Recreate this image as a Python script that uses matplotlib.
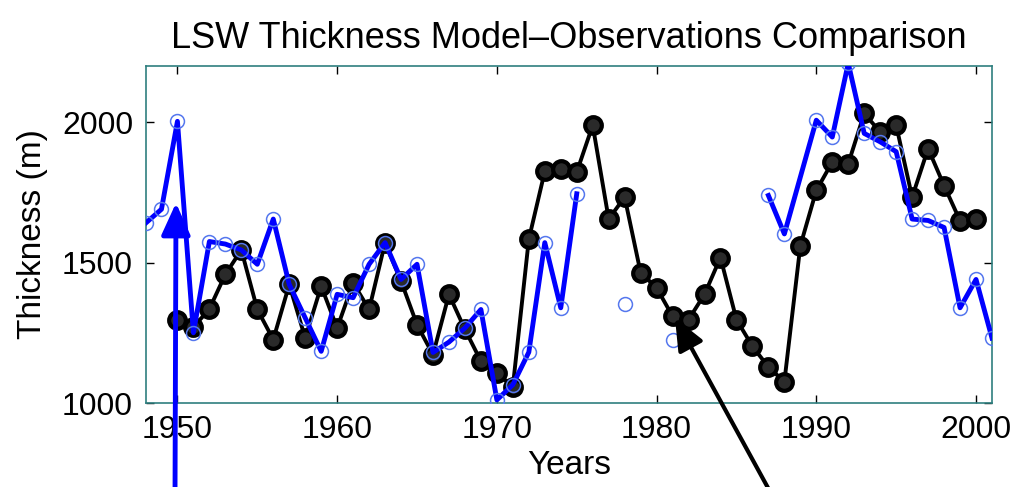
import numpy as np
import matplotlib
matplotlib.use("Agg")
import matplotlib.pyplot as plt

# ---- data ----
model_years = list(range(1950, 2001))
model_thickness = [1297, 1270, 1335, 1458, 1545, 1333, 1226, 1422, 1231, 1416,
                   1267, 1428, 1333, 1571, 1434, 1279, 1172, 1387, 1262, 1149,
                   1106, 1058, 1583, 1825, 1832, 1822, 1989, 1655, 1733, 1464,
                   1410, 1309, 1297, 1387, 1518, 1297, 1202, 1128, 1076, 1560,
                   1757, 1858, 1852, 2031, 1965, 1989, 1733, 1906, 1774, 1649,
                   1655]

obs_years = [1948, 1949, 1950, 1951, 1952, 1953, 1954, 1955, 1956, 1957,
             1958, 1959, 1960, 1961, 1962, 1963, 1964, 1965, 1966, 1967,
             1968, 1969, 1970, 1971, 1972, 1973, 1974, 1975, 1976, 1977,
             1978, 1979, 1980, 1981, 1982, 1983, 1984, 1985, 1986, 1987,
             1988, 1990, 1991, 1992, 1993, 1994, 1995, 1996, 1997, 1998,
             1999, 2000, 2001]
nan = np.nan
obs_thickness = [1640, 1690, 2003, 1250, 1575, 1566, 1545, 1494, 1655, 1422,
                 1303, 1184, 1387, 1375, 1494, 1571, 1440, 1494, 1180, 1217,
                 1267, 1333, 1011, 1065, 1181, 1571, 1339, 1745, nan, nan,
                 1351, nan, nan, 1226, nan, nan, nan, nan, nan, 1739,
                 1602, 2007, 1947, 2210, 1960, 1930, 1895, 1655, 1650, 1625,
                 1339, 1440, 1231]

x_ticks = [1950, 1960, 1970, 1980, 1990, 2000]
y_ticks = [1000, 1500, 2000]
title = "LSW Thickness Model\u2013Observations Comparison"
xlabel = "Years"
ylabel = "Thickness (m)"

# ---- style ----
plt.rcParams['font.family'] = ['Liberation Sans', 'DejaVu Sans']

W, H = 1017, 487
fig = plt.figure(figsize=(W / 100, H / 100), dpi=100)
ax = fig.add_axes([145.5 / W, (H - 403) / H, (992 - 145.5) / W, (403 - 66) / H])

ax.plot(model_years, model_thickness, color='black', lw=2.8, marker='o',
        markersize=12, markerfacecolor='#2a2a2a', markeredgecolor='black',
        markeredgewidth=3.0, zorder=2)
ax.plot(obs_years, obs_thickness, color='#0000ff', lw=3.5, marker='o',
        markersize=10, markerfacecolor='none', markeredgecolor='#5577ee',
        markeredgewidth=1.1, zorder=3)

ax.set_xlim(1948, 2001)
ax.set_ylim(1000, 2200)
ax.set_xticks(x_ticks)
ax.set_yticks(y_ticks)
ax.tick_params(direction='in', length=6, width=1, top=True, right=True,
               labelsize=23, colors='black', pad=9)
for sp in ax.spines.values():
    sp.set_color('#2f7f7f')
    sp.set_linewidth(1.2)

ax.set_title(title, fontsize=26, pad=13)
ax.set_xlabel(xlabel, fontsize=24, labelpad=3)
ax.set_ylabel(ylabel, fontsize=24, labelpad=10)

# ---- arrows (annotation, figure pixels) ----
ax.annotate('', xy=(176, H - 203), xytext=(175, -10), xycoords='figure pixels',
            textcoords='figure pixels',
            arrowprops=dict(arrowstyle='-|>,head_length=0.75,head_width=0.34',
                            mutation_scale=26, color='#0000ff', lw=3.5,
                            shrinkA=0, shrinkB=0), annotation_clip=False)
ax.annotate('', xy=(675, H - 318), xytext=(773, -10), xycoords='figure pixels',
            textcoords='figure pixels',
            arrowprops=dict(arrowstyle='-|>,head_length=0.75,head_width=0.32',
                            mutation_scale=26, color='black', lw=3.0,
                            shrinkA=0, shrinkB=0), annotation_clip=False)

fig.savefig('out.png', dpi=100, facecolor='white')
